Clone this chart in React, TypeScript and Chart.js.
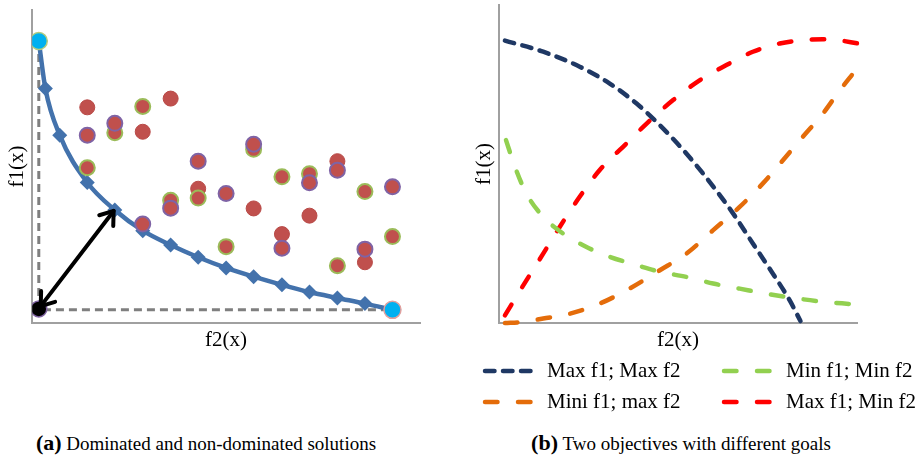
import React, { useEffect, useRef } from 'react';
import { Chart, registerables } from 'chart.js';

Chart.register(...registerables);

// ---------- Panel (a): dominated / non-dominated solutions ----------
const frontX = [0.17, 0.34, 0.71, 1.42, 2.13, 2.85, 3.57, 4.28, 5.0, 5.71, 6.44, 7.15, 7.87, 8.58, 9.29];
const frontY = [9.01, 7.49, 6.0, 4.49, 3.61, 2.95, 2.49, 2.1, 1.76, 1.48, 1.22, 0.99, 0.8, 0.62, 0.42];

const plainX = [1.42, 2.85, 3.57, 4.28, 5.71, 6.44, 7.15, 7.87, 8.58];
const plainY = [6.89, 6.11, 7.17, 4.29, 3.66, 2.84, 3.43, 5.17, 1.94];

const greenX = [1.42, 2.13, 2.85, 3.57, 4.28, 5.0, 5.71, 6.44, 7.15, 7.87, 8.58, 9.29];
const greenY = [4.96, 6.08, 6.92, 3.92, 3.99, 2.44, 5.55, 4.67, 4.77, 1.83, 4.2, 2.76];

const purpleX = [1.42, 2.13, 2.85, 3.57, 4.28, 5.0, 5.71, 6.44, 7.15, 7.87, 8.58, 9.29];
const purpleY = [6.0, 6.38, 3.16, 3.67, 5.17, 4.14, 5.71, 2.39, 4.48, 4.88, 2.36, 4.35];

const extremeX = [0.17, 9.29];
const extremeY = [9.01, 0.42];

const idealX = [0.17];
const idealY = [0.45];

const boundX = [0.17, 0.17, 9.29];
const boundY = [9.01, 0.42, 0.42];

const arrowFrom = [0.22, 0.54];
const arrowTo = [2.1, 3.58];

// ---------- Panel (b): two objectives with different goals ----------
const maxMaxX = [0.16, 1.23, 2.25, 3.09, 3.84, 4.49, 5.23, 5.88, 6.54, 7.09, 7.65, 8.12, 8.42];
const maxMaxY = [8.88, 8.53, 8.06, 7.53, 6.9, 6.22, 5.33, 4.44, 3.44, 2.5, 1.55, 0.71, 0.06];

const minMaxX = [0.16, 0.62, 1.23, 1.97, 2.81, 3.56, 4.49, 5.23, 5.98, 6.72, 7.37, 7.93, 8.49, 9.05, 9.52, 9.93];
const minMaxY = [0.0, 0.03, 0.14, 0.29, 0.61, 1.03, 1.66, 2.18, 2.92, 3.65, 4.39, 5.12, 5.86, 6.59, 7.32, 7.9];

const minMinX = [0.19, 0.44, 0.76, 1.23, 1.79, 2.44, 3.09, 3.84, 4.49, 5.23, 5.98, 6.72, 7.47, 8.21, 8.96, 9.89];
const minMinY = [5.75, 4.91, 4.07, 3.34, 2.81, 2.39, 2.08, 1.82, 1.61, 1.45, 1.24, 1.08, 0.92, 0.79, 0.68, 0.59];

const maxMinX = [0.16, 0.76, 1.23, 1.69, 2.25, 2.81, 3.56, 4.12, 4.86, 5.61, 6.35, 7.09, 7.84, 8.58, 9.05, 9.42, 10.03];
const maxMinY = [0.24, 1.34, 2.18, 3.02, 3.97, 4.81, 5.65, 6.27, 7.01, 7.64, 8.11, 8.53, 8.79, 8.9, 8.92, 8.9, 8.79];

const seriesLabels = ['Max f1; Max f2', 'Mini f1; max f2', 'Min f1; Min f2', 'Max f1; Min f2'];

const pts = (xs: number[], ys: number[]) => xs.map((x, i) => ({ x, y: ys[i] }));

const SERIF = "'Liberation Serif', 'Times New Roman', serif";
const AXIS_GRAY = '#A0A0A0';

function axis(titleText: string, isY: boolean, padTop: number, padBottom: number) {
  return {
    type: 'linear' as const,
    min: 0,
    max: 10,
    grid: { display: false, drawTicks: false },
    ticks: { display: false },
    border: { display: true, color: AXIS_GRAY, width: 2 },
    title: {
      display: true,
      text: titleText,
      color: '#000',
      font: { family: SERIF, size: 21 },
      padding: { top: padTop, bottom: padBottom },
    },
  };
}

const arrowPlugin = {
  id: 'arrowPlugin',
  afterDatasetsDraw(chart: any) {
    const xs = chart.scales.x;
    const ys = chart.scales.y;
    const x1 = xs.getPixelForValue(arrowFrom[0]);
    const y1 = ys.getPixelForValue(arrowFrom[1]);
    const x2 = xs.getPixelForValue(arrowTo[0]);
    const y2 = ys.getPixelForValue(arrowTo[1]);
    const ctx = chart.ctx;
    ctx.save();
    ctx.strokeStyle = '#000';
    ctx.lineWidth = 4;
    ctx.lineCap = 'round';
    ctx.lineJoin = 'round';
    ctx.beginPath();
    ctx.moveTo(x1, y1);
    ctx.lineTo(x2, y2);
    ctx.stroke();
    const head = (tx: number, ty: number, fx: number, fy: number) => {
      const ang = Math.atan2(ty - fy, tx - fx);
      const len = 15;
      const spread = Math.PI / 5;
      ctx.beginPath();
      ctx.moveTo(tx - len * Math.cos(ang - spread), ty - len * Math.sin(ang - spread));
      ctx.lineTo(tx, ty);
      ctx.lineTo(tx - len * Math.cos(ang + spread), ty - len * Math.sin(ang + spread));
      ctx.stroke();
    };
    head(x2, y2, x1, y1);
    head(x1, y1, x2, y2);
    ctx.restore();
  },
};

const legendPlugin = {
  id: 'customLegend',
  afterDraw(chart: any) {
    const ctx = chart.ctx;
    const cols = [23, 262];
    const rows = [371, 402];
    const place = [
      [0, 0],
      [0, 1],
      [1, 0],
      [1, 1],
    ];
    chart.data.datasets.forEach((ds: any, i: number) => {
      const [c, r] = place[i];
      const x0 = cols[c];
      const y = rows[r];
      ctx.save();
      ctx.strokeStyle = ds.borderColor;
      ctx.lineWidth = ds.borderWidth;
      ctx.lineCap = 'round';
      ctx.setLineDash(ds.borderDash);
      ctx.beginPath();
      ctx.moveTo(x0 + 2, y);
      ctx.lineTo(x0 + 48, y);
      ctx.stroke();
      ctx.setLineDash([]);
      ctx.fillStyle = '#000';
      ctx.font = `21px ${SERIF}`;
      ctx.textBaseline = 'middle';
      ctx.textAlign = 'left';
      ctx.fillText(ds.label, x0 + 64, y);
      ctx.restore();
    });
  },
};

export default function App() {
  const leftRef = useRef<HTMLCanvasElement>(null);
  const rightRef = useRef<HTMLCanvasElement>(null);

  useEffect(() => {
    const left = new Chart(leftRef.current as HTMLCanvasElement, {
      type: 'scatter',
      data: {
        datasets: [
          {
            label: 'bounds',
            data: pts(boundX, boundY),
            showLine: true,
            borderColor: '#7F7F7F',
            borderWidth: 3,
            borderDash: [8, 5],
            pointRadius: 0,
            order: 6,
          },
          {
            label: 'front',
            data: pts(frontX, frontY),
            showLine: true,
            borderColor: '#4372AC',
            borderWidth: 4.5,
            cubicInterpolationMode: 'monotone',
            pointStyle: 'rectRot',
            pointRadius: frontX.map((_, i) => (i === 0 || i === frontX.length - 1 ? 0 : 7.5)),
            pointBackgroundColor: '#4372AC',
            pointBorderColor: '#4372AC',
            pointBorderWidth: 0,
            order: 5,
          },
          {
            label: 'dominated',
            data: pts(plainX, plainY),
            pointRadius: 7.5,
            pointBackgroundColor: '#C0504D',
            pointBorderColor: '#B84A47',
            pointBorderWidth: 1,
            order: 4,
          },
          {
            label: 'dominated-green',
            data: pts(greenX, greenY),
            pointRadius: 7.5,
            pointBackgroundColor: '#C0504D',
            pointBorderColor: '#9BBB59',
            pointBorderWidth: 2,
            order: 3,
          },
          {
            label: 'dominated-purple',
            data: pts(purpleX, purpleY),
            pointRadius: 7.5,
            pointBackgroundColor: '#C0504D',
            pointBorderColor: '#7F63A5',
            pointBorderWidth: 2,
            order: 2,
          },
          {
            label: 'extremes',
            data: pts(extremeX, extremeY),
            pointRadius: 8.5,
            pointBackgroundColor: '#00B0F0',
            pointBorderColor: ['#B5CC7E', '#E0A09E'],
            pointBorderWidth: 1.5,
            order: 1,
          },
          {
            label: 'ideal',
            data: pts(idealX, idealY),
            pointRadius: 8,
            pointBackgroundColor: '#000000',
            pointBorderColor: '#8064A2',
            pointBorderWidth: 1.5,
            order: 0,
          },
        ],
      },
      options: {
        animation: false,
        responsive: true,
        maintainAspectRatio: false,
        layout: { padding: { left: 0, top: 8, right: 20, bottom: 6.8 } },
        plugins: { legend: { display: false }, tooltip: { enabled: false } },
        scales: {
          x: axis('f2(x)', false, 5, 0),
          y: axis('f1(x)', true, 5, 2),
        },
      } as any,
      plugins: [arrowPlugin],
    });

    const lineDs = (label: string, xs: number[], ys: number[], color: string, dash: number[]) => ({
      label,
      data: pts(xs, ys),
      showLine: true,
      borderColor: color,
      borderWidth: 4.5,
      borderDash: dash,
      borderCapStyle: 'round',
      cubicInterpolationMode: 'monotone',
      pointRadius: 0,
      clip: false,
    });

    const right = new Chart(rightRef.current as HTMLCanvasElement, {
      type: 'scatter',
      data: {
        datasets: [
          lineDs(seriesLabels[0], maxMaxX, maxMaxY, '#1F3864', [9.5, 8.5]),
          lineDs(seriesLabels[1], minMaxX, minMaxY, '#E46C0A', [12.5, 20.5]),
          lineDs(seriesLabels[2], minMinX, minMinY, '#92D050', [12.5, 20.5]),
          lineDs(seriesLabels[3], maxMinX, maxMinY, '#FF0000', [12.5, 20.5]),
        ] as any,
      },
      options: {
        animation: false,
        responsive: true,
        maintainAspectRatio: false,
        layout: { padding: { left: 8, top: 5, right: 67, bottom: 61.8 } },
        plugins: { legend: { display: false }, tooltip: { enabled: false } },
        scales: {
          x: axis('f2(x)', false, 5, 0),
          y: axis('f1(x)', true, 4, 2),
        },
      } as any,
      plugins: [legendPlugin],
    });

    return () => {
      left.destroy();
      right.destroy();
    };
  }, []);

  const capStyle: React.CSSProperties = {
    position: 'absolute',
    top: 431,
    height: 24,
    lineHeight: '24px',
    textAlign: 'center',
    fontFamily: SERIF,
    fontSize: 19,
    color: '#000',
    whiteSpace: 'nowrap',
  };

  return (
    <div style={{ position: 'absolute', left: 0, top: 0, width: 924, height: 459, background: '#fff', overflow: 'hidden' }}>
      <div style={{ position: 'absolute', left: 0, top: 0, width: 440, height: 360 }}>
        <canvas ref={leftRef} />
      </div>
      <div style={{ position: 'absolute', left: 460, top: 0, width: 464, height: 415 }}>
        <canvas ref={rightRef} />
      </div>
      <div style={{ ...capStyle, left: 0, width: 412 }}>
        <b style={{ fontSize: 22 }}>(a)</b> Dominated and non-dominated solutions
      </div>
      <div style={{ ...capStyle, left: 481, width: 400 }}>
        <b style={{ fontSize: 22 }}>(b)</b> Two objectives with different goals
      </div>
    </div>
  );
}
